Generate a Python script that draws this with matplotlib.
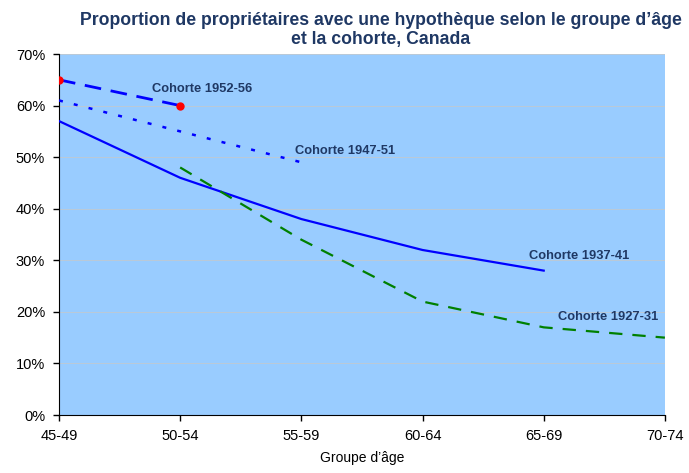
import matplotlib.pyplot as plt

plt.rcParams["font.family"] = ["Liberation Sans", "DejaVu Sans"]

# Data
age_groups = ["45-49", "50-54", "55-59", "60-64", "65-69", "70-74"]
cohort_1952 = [65, 60]
cohort_1947 = [61, 55, 49]
cohort_1937 = [57, 46, 38, 32, 28]
cohort_1927 = [None, 48, 34, 22, 17, 15]

navy = "#1F3864"

fig = plt.figure(figsize=(6.89, 4.73), dpi=100)
ax = fig.add_axes([0.0856, 0.1226, 0.8794, 0.7632])
ax.set_facecolor("#99CCFF")

x = list(range(len(age_groups)))

ax.plot(x[:2], cohort_1952, color="#0000FF", lw=2, dashes=(6, 3.5), zorder=3)
ax.plot(x[:2], cohort_1952, "o", color="#FF0000", ms=5, zorder=4)
ax.plot(x[:3], cohort_1947, color="#0000FF", lw=1.8, dashes=(1.6, 4.5), zorder=3)
ax.plot(x[:5], cohort_1937, color="#0000FF", lw=1.6, zorder=3)
x27 = [xi for xi, v in zip(x, cohort_1927) if v is not None]
y27 = [v for v in cohort_1927 if v is not None]
ax.plot(x27, y27, color="#008000", lw=1.6, dashes=(6, 4.5), zorder=3)

lab = dict(color=navy, fontsize=9.3, fontweight="bold", va="center", ha="left")
ax.text(0.77, 63.2, "Cohorte 1952-56", **lab)
ax.text(1.95, 51.2, "Cohorte 1947-51", **lab)
ax.text(3.88, 30.8, "Cohorte 1937-41", **lab)
ax.text(4.12, 19.0, "Cohorte 1927-31", **lab)

ax.set_xlim(0, 5)
ax.set_ylim(0, 70)
ax.set_xticks(x)
ax.set_xticklabels(age_groups, fontsize=10.5)
ax.set_yticks(range(0, 71, 10))
ax.set_yticklabels([f"{v}%" for v in range(0, 71, 10)], fontsize=10.5)
ax.tick_params(direction="out", length=4, width=1, pad=6)
ax.grid(axis="y", color="#C8C8C8", lw=0.5, zorder=0)
ax.set_axisbelow(True)
for s in ["top", "right"]:
    ax.spines[s].set_visible(False)

ax.set_xlabel("Groupe d\u2019âge", fontsize=10, labelpad=6)
fig.suptitle("Proportion de propriétaires avec une hypothèque selon le groupe d\u2019âge\net la cohorte, Canada",
             x=0.553, y=0.975, fontsize=12.7, fontweight="bold", color=navy, linespacing=1.15)

fig.savefig("out.png", dpi=100)
